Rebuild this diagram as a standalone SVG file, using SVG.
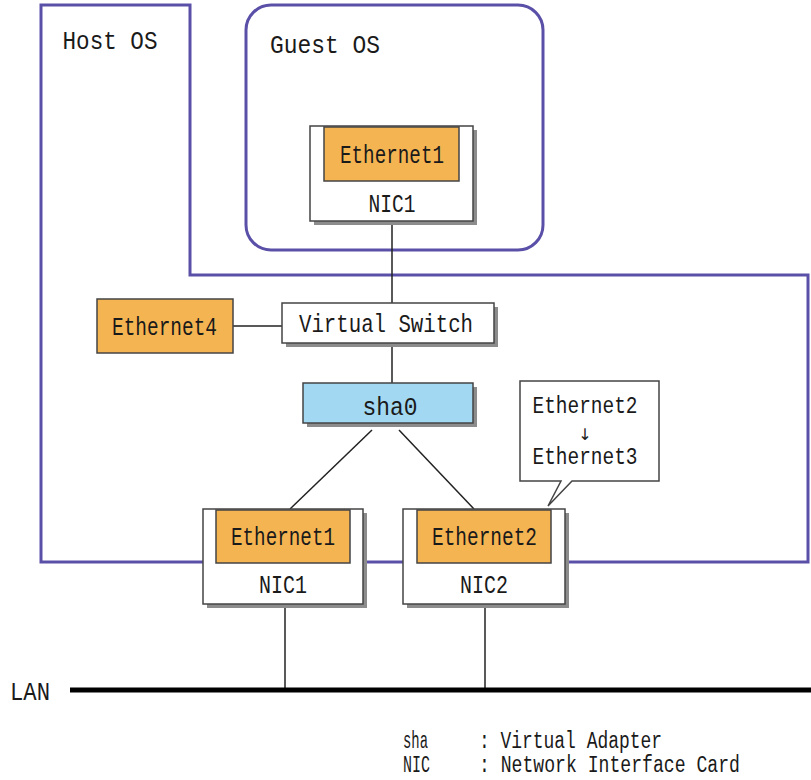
<svg xmlns="http://www.w3.org/2000/svg" width="811" height="780" viewBox="0 0 811 780">
<style>
text{font-family:"Liberation Mono","DejaVu Sans Mono",monospace;fill:#1a1a1a;text-anchor:middle;font-size:26px}
.os{fill:none;stroke:#5a50a8;stroke-width:3}
.sh{fill:#8c8c8c}
.box{fill:#fff;stroke:#444;stroke-width:1.5}
.or{fill:#f5b452;stroke:#444;stroke-width:1.5}
.bl{fill:#a2d8f2;stroke:#444;stroke-width:1.5}
.ln{stroke:#222;stroke-width:1.5;fill:none}
.lg{font-size:23px;text-anchor:start}
.co{font-size:24px}
</style>
<g id="host-os">
<path class="os" d="M41,5 H190 V275 H808 V562 H41 Z"/>
<text x="110" y="49" textLength="95" lengthAdjust="spacingAndGlyphs">Host OS</text>
</g>
<g id="guest-os">
<rect class="os" x="246" y="5" width="297" height="245" rx="25"/>
<text x="325" y="53" textLength="110" lengthAdjust="spacingAndGlyphs">Guest OS</text>
</g>
<g id="connectors">
<line class="ln" x1="392" y1="221" x2="392" y2="303"/>
<line class="ln" x1="233" y1="326" x2="282" y2="326"/>
<line class="ln" x1="392" y1="343" x2="392" y2="383"/>
<line class="ln" x1="372" y1="430" x2="290" y2="509"/>
<line class="ln" x1="399" y1="430" x2="474" y2="509"/>
<line class="ln" x1="285" y1="604" x2="285" y2="690"/>
<line class="ln" x1="485" y1="604" x2="485" y2="690"/>
</g>
<g id="guest-nic1">
<rect class="sh" x="314" y="130" width="163" height="95"/>
<rect class="box" x="310" y="126" width="163" height="95"/>
<rect class="or" x="324" y="127" width="135" height="54"/>
<text x="392" y="163" textLength="104" lengthAdjust="spacingAndGlyphs">Ethernet1</text>
<text x="392" y="212" textLength="47" lengthAdjust="spacingAndGlyphs">NIC1</text>
</g>
<g id="virtual-switch">
<rect class="sh" x="286" y="307" width="212" height="40"/>
<rect class="box" x="282" y="303" width="212" height="40"/>
<text x="386" y="332" textLength="174" lengthAdjust="spacingAndGlyphs">Virtual Switch</text>
</g>
<g id="ethernet4">
<rect class="or" x="97" y="299" width="136" height="54"/>
<text x="164.5" y="335" textLength="105" lengthAdjust="spacingAndGlyphs">Ethernet4</text>
</g>
<g id="sha0">
<rect class="sh" x="307" y="387" width="170" height="40"/>
<rect class="bl" x="303" y="383" width="170" height="40"/>
<text x="390" y="415" textLength="55" lengthAdjust="spacingAndGlyphs">sha0</text>
</g>
<g id="host-nic1">
<rect class="sh" x="207" y="513" width="160" height="95"/>
<rect class="box" x="203" y="509" width="160" height="95"/>
<rect class="or" x="216" y="510" width="134" height="53"/>
<text x="283" y="545" textLength="104" lengthAdjust="spacingAndGlyphs">Ethernet1</text>
<text x="283" y="593" textLength="48" lengthAdjust="spacingAndGlyphs">NIC1</text>
</g>
<g id="host-nic2">
<rect class="sh" x="407" y="513" width="162" height="95"/>
<rect class="box" x="403" y="509" width="162" height="95"/>
<rect class="or" x="417" y="510" width="134" height="53"/>
<text x="484.5" y="545" textLength="105" lengthAdjust="spacingAndGlyphs">Ethernet2</text>
<text x="484" y="593" textLength="48" lengthAdjust="spacingAndGlyphs">NIC2</text>
</g>
<g id="callout">
<path class="box" d="M520,381 H659 V481 H572 L548,506 L561,481 H520 Z"/>
<text class="co" x="585" y="413" textLength="105" lengthAdjust="spacingAndGlyphs">Ethernet2</text>
<text x="585" y="440" style="font-family:'DejaVu Sans',sans-serif;font-size:16px">↓</text>
<text class="co" x="585" y="464" textLength="105" lengthAdjust="spacingAndGlyphs">Ethernet3</text>
</g>
<g id="lan">
<line x1="70" y1="690" x2="811" y2="690" stroke="#000" stroke-width="5"/>
<text x="30" y="700" textLength="40" lengthAdjust="spacingAndGlyphs">LAN</text>
</g>
<g id="legend">
<text class="lg" x="403" y="748" textLength="25" lengthAdjust="spacingAndGlyphs">sha</text>
<text class="lg" x="479" y="748" textLength="183" lengthAdjust="spacingAndGlyphs">: Virtual Adapter</text>
<text class="lg" x="403" y="772" textLength="27" lengthAdjust="spacingAndGlyphs">NIC</text>
<text class="lg" x="479" y="772" textLength="261" lengthAdjust="spacingAndGlyphs">: Network Interface Card</text>
</g>
</svg>
